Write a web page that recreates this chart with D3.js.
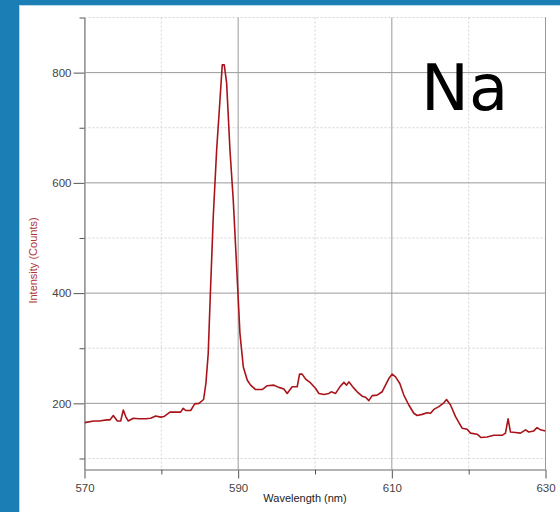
<!DOCTYPE html>
<html>
<head>
<meta charset="utf-8">
<script src="https://cdn.jsdelivr.net/npm/d3@7"></script>
<style>
  html, body { margin: 0; padding: 0; background: #1b7fb6; }
  svg { display: block; }
</style>
</head>
<body>
<script>
// Emission spectrum of sodium: wavelength (nm) vs intensity (counts)
const wavelength = [
  570.0, 571.24, 571.89, 572.93, 573.32, 573.75, 574.27, 574.71, 575.05, 575.36,
  575.70, 576.35, 577.09, 577.96, 578.61, 579.26, 579.91, 580.34, 581.12, 582.51,
  582.85, 583.17, 583.82, 584.34, 584.90, 585.5, 585.8, 586.1, 586.35, 586.76,
  587.2, 587.63, 587.93, 588.19, 588.5, 588.93, 589.36, 589.8, 590.23, 590.67,
  591.19, 591.62, 592.27, 593.13, 593.78, 594.65, 595.30, 595.95, 596.38, 597.03,
  597.68, 597.99, 598.33, 598.78, 599.43, 600.08, 600.51, 601.16, 601.81, 602.11,
  602.68, 603.24, 603.76, 604.11, 604.41, 604.97, 605.49, 606.14, 606.58, 607.01,
  607.44, 608.09, 608.74, 608.96, 609.61, 610.04, 610.48, 611.04, 611.56, 612.21,
  612.86, 613.29, 613.94, 614.59, 615.04, 615.47, 616.12, 616.77, 617.12, 617.64,
  618.29, 619.15, 619.80, 620.24, 621.10, 621.62, 622.40, 623.27, 624.35, 624.79,
  625.13, 625.44, 626.09, 626.74, 627.40, 627.82, 628.48, 628.90, 629.35, 630.0
];
const intensity = [
  165, 168, 168, 170, 170, 178, 168, 168, 188, 176,
  168, 173, 172, 172, 173, 177, 175, 176, 184, 184,
  191, 187, 187, 199, 200, 207, 236, 290, 387, 539,
  660, 750, 814, 814, 781, 660, 569, 448, 327, 266,
  242, 233, 225, 225, 232, 233, 229, 226, 218, 230,
  230, 253, 253, 244, 237, 227, 218, 216, 218, 221,
  218, 230, 238, 233, 239, 229, 221, 213, 211, 205,
  214, 215, 221, 227, 245, 253, 248, 236, 215, 197,
  182, 178, 180, 183, 182, 189, 194, 201, 207, 197,
  176, 155, 153, 146, 144, 138, 139, 142, 142, 146,
  172, 148, 147, 146, 152, 148, 150, 156, 152, 150
];
const xMajorTicks = [570, 590, 610, 630];
const xMinorTicks = [580, 600, 620];
const yMajorTicks = [200, 400, 600, 800];
const yMinorTicks = [100, 300, 500, 700, 900];

const W = 560, H = 512;
const plot = { left: 84.5, right: 545.5, top: 17.5, bottom: 469.5 };

const svg = d3.select("body").append("svg")
  .attr("width", W).attr("height", H);

// white panel inside the blue frame
svg.append("rect")
  .attr("x", 19.5).attr("y", 5.5)
  .attr("width", W).attr("height", H)
  .attr("fill", "#ffffff")
  .attr("stroke", "#b9d8ea").attr("stroke-width", 1);

const x = d3.scaleLinear().domain([570, 630]).range([plot.left, plot.right]);
const y = d3.scaleLinear().domain([80, 900]).range([plot.bottom, plot.top]);

const grid = svg.append("g");
// dotted minor grid
grid.selectAll(".vmin").data(xMinorTicks).join("line")
  .attr("x1", d => x(d)).attr("x2", d => x(d))
  .attr("y1", plot.top).attr("y2", plot.bottom)
  .attr("stroke", "#d4d4d4").attr("stroke-dasharray", "2,2");
grid.selectAll(".hmin").data(yMinorTicks).join("line")
  .attr("y1", d => y(d)).attr("y2", d => y(d))
  .attr("x1", plot.left).attr("x2", plot.right)
  .attr("stroke", "#d4d4d4").attr("stroke-dasharray", "2,2");
// solid major grid
grid.selectAll(".vmaj").data(xMajorTicks).join("line")
  .attr("x1", d => x(d)).attr("x2", d => x(d))
  .attr("y1", plot.top).attr("y2", plot.bottom)
  .attr("stroke", "#9a9a9a");
grid.selectAll(".hmaj").data(yMajorTicks).join("line")
  .attr("y1", d => y(d)).attr("y2", d => y(d))
  .attr("x1", plot.left).attr("x2", plot.right)
  .attr("stroke", "#9a9a9a");

// axes
const tickFont = "Liberation Sans, Arial, sans-serif";
const yAxis = svg.append("g").attr("transform", `translate(${plot.left},0)`)
  .call(d3.axisLeft(y).tickValues(yMajorTicks).tickSize(11).tickPadding(2).tickSizeOuter(0));
const yMinorAxis = svg.append("g").attr("transform", `translate(${plot.left},0)`)
  .call(d3.axisLeft(y).tickValues(yMinorTicks).tickSize(5).tickFormat("").tickSizeOuter(0));
const xAxis = svg.append("g").attr("transform", `translate(0,${plot.bottom})`)
  .call(d3.axisBottom(x).tickValues(xMajorTicks).tickSize(9).tickPadding(5).tickSizeOuter(0));
const xMinorAxis = svg.append("g").attr("transform", `translate(0,${plot.bottom})`)
  .call(d3.axisBottom(x).tickValues(xMinorTicks).tickSize(5).tickFormat("").tickSizeOuter(0));

[yAxis, yMinorAxis, xAxis, xMinorAxis].forEach(g => {
  g.select(".domain").attr("stroke", "#9a9a9a");
  g.selectAll(".tick line").attr("stroke", "#555555");
  g.selectAll(".tick text").attr("fill", "#444444")
    .style("font-family", tickFont).style("font-size", "11.5px");
});

// right border
svg.append("line")
  .attr("x1", plot.right).attr("x2", plot.right)
  .attr("y1", plot.top).attr("y2", plot.bottom)
  .attr("stroke", "#9a9a9a");

// axis titles
svg.append("text")
  .attr("transform", `translate(37,${(plot.top + plot.bottom) / 2 + 17}) rotate(-90)`)
  .attr("text-anchor", "middle")
  .attr("fill", "#b03535")
  .style("font-family", tickFont).style("font-size", "11px")
  .text("Intensity (Counts)");
svg.append("text")
  .attr("x", 305).attr("y", 502)
  .attr("text-anchor", "middle")
  .attr("fill", "#222222")
  .style("font-family", tickFont).style("font-size", "11px")
  .text("Wavelength (nm)");

// spectrum
svg.append("clipPath").attr("id", "plotclip").append("rect")
  .attr("x", plot.left).attr("y", plot.top)
  .attr("width", plot.right - plot.left).attr("height", plot.bottom - plot.top);

const line = d3.line()
  .x((d, i) => x(wavelength[i]))
  .y(d => y(d));

svg.append("path")
  .datum(intensity)
  .attr("clip-path", "url(#plotclip)")
  .attr("fill", "none")
  .attr("stroke", "#a8141a")
  .attr("stroke-width", 1.6)
  .attr("stroke-linejoin", "round")
  .attr("d", line);

// element label
svg.append("text")
  .attr("x", 421).attr("y", 110)
  .attr("fill", "#000000")
  .style("font-family", "DejaVu Sans, sans-serif")
  .style("font-size", "64px")
  .text("Na");
</script>
</body>
</html>
